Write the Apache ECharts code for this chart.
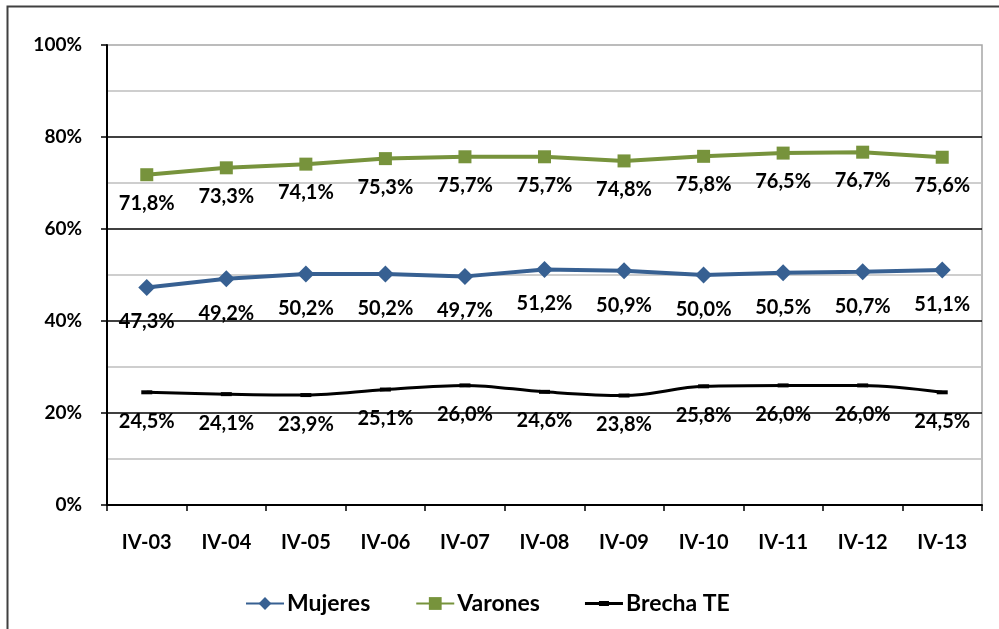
<!DOCTYPE html>
<html>
<head>
<meta charset="utf-8">
<script src="https://cdn.jsdelivr.net/npm/echarts@6/dist/echarts.min.js"></script>
<style>
html,body{margin:0;padding:0;background:#fff;}
#chart{width:999px;height:629px;}
</style>
</head>
<body>
<div id="chart"></div>
<script>
const categories = ['IV-03','IV-04','IV-05','IV-06','IV-07','IV-08','IV-09','IV-10','IV-11','IV-12','IV-13'];
const mujeres = [47.3, 49.2, 50.2, 50.2, 49.7, 51.2, 50.9, 50.0, 50.5, 50.7, 51.1];
const varones = [71.8, 73.3, 74.1, 75.3, 75.7, 75.7, 74.8, 75.8, 76.5, 76.7, 75.6];
const brecha = [24.5, 24.1, 23.9, 25.1, 26.0, 24.6, 23.8, 25.8, 26.0, 26.0, 24.5];

const FONT = 'Lato';
const fmt = p => p.value.toFixed(1).replace('.', ',') + '%';
const lbl = (dist) => ({
  show: true, position: 'bottom', distance: dist,
  formatter: fmt, color: '#000', fontFamily: FONT, fontWeight: 'bold', fontSize: 20
});

const chart = echarts.init(document.getElementById('chart'), null, {renderer: 'canvas'});
chart.setOption({
  animation: false,
  backgroundColor: '#fff',
  graphic: [{
    type: 'rect', z: 100, silent: true,
    shape: {x: 7.5, y: 6.5, width: 1200, height: 800},
    style: {fill: 'none', stroke: '#404040', lineWidth: 2}
  }],
  grid: {left: 107, right: 17, top: 45, bottom: 124, show: true, borderColor: '#a6a6a6', borderWidth: 1.5, backgroundColor: 'transparent'},
  legend: {
    left: 240, top: 587, itemWidth: 38, itemHeight: 16, itemGap: 45,
    textStyle: {fontFamily: FONT, fontWeight: 'bold', fontSize: 23, color: '#000', padding: [0, 0, 0, -2]},
    data: [
      {name: 'Mujeres'},
      {name: 'Varones'},
      {name: 'Brecha TE', icon: 'path://M0,0 L0.01,0 L0.01,0.01 Z M0,16 L0.01,16 L0.01,15.99 Z M0,6.5 L38,6.5 L38,9.5 L0,9.5 Z M14,5.5 L24,5.5 L24,10.5 L14,10.5 Z'}
    ]
  },
  xAxis: {
    type: 'category', data: categories, boundaryGap: true,
    axisLine: {lineStyle: {color: '#000', width: 2}},
    axisTick: {show: true, length: 6, lineStyle: {color: '#000', width: 1.5}},
    axisLabel: {margin: 28, color: '#000', fontFamily: FONT, fontWeight: 'bold', fontSize: 20}
  },
  yAxis: {
    type: 'value', min: 0, max: 100, interval: 20,
    axisLine: {show: true, lineStyle: {color: '#000', width: 2}},
    axisTick: {show: true, length: 6, lineStyle: {color: '#000', width: 1.5}},
    axisLabel: {margin: 25, formatter: '{value}%', color: '#000', fontFamily: FONT, fontWeight: 'bold', fontSize: 19},
    splitLine: {show: true, showMaxLine: false, lineStyle: {color: '#000', width: 1.5}},
    minorTick: {show: false, splitNumber: 2},
    minorSplitLine: {show: true, lineStyle: {color: '#bfbfbf', width: 1.5}}
  },
  series: [
    {
      name: 'Mujeres', type: 'line', data: mujeres,
      symbol: 'diamond', symbolSize: 17,
      lineStyle: {color: '#376092', width: 4},
      itemStyle: {color: '#376092'},
      label: lbl(16), z: 3
    },
    {
      name: 'Varones', type: 'line', data: varones,
      symbol: 'rect', symbolSize: 13,
      lineStyle: {color: '#77933C', width: 4},
      itemStyle: {color: '#77933C'},
      label: lbl(12), z: 3
    },
    {
      name: 'Brecha TE', type: 'line', data: brecha, smooth: 0.35,
      symbol: 'rect', symbolSize: [11, 4],
      lineStyle: {color: '#000', width: 3},
      itemStyle: {color: '#000'},
      label: lbl(17), z: 3
    }
  ]
});
</script>
</body>
</html>
